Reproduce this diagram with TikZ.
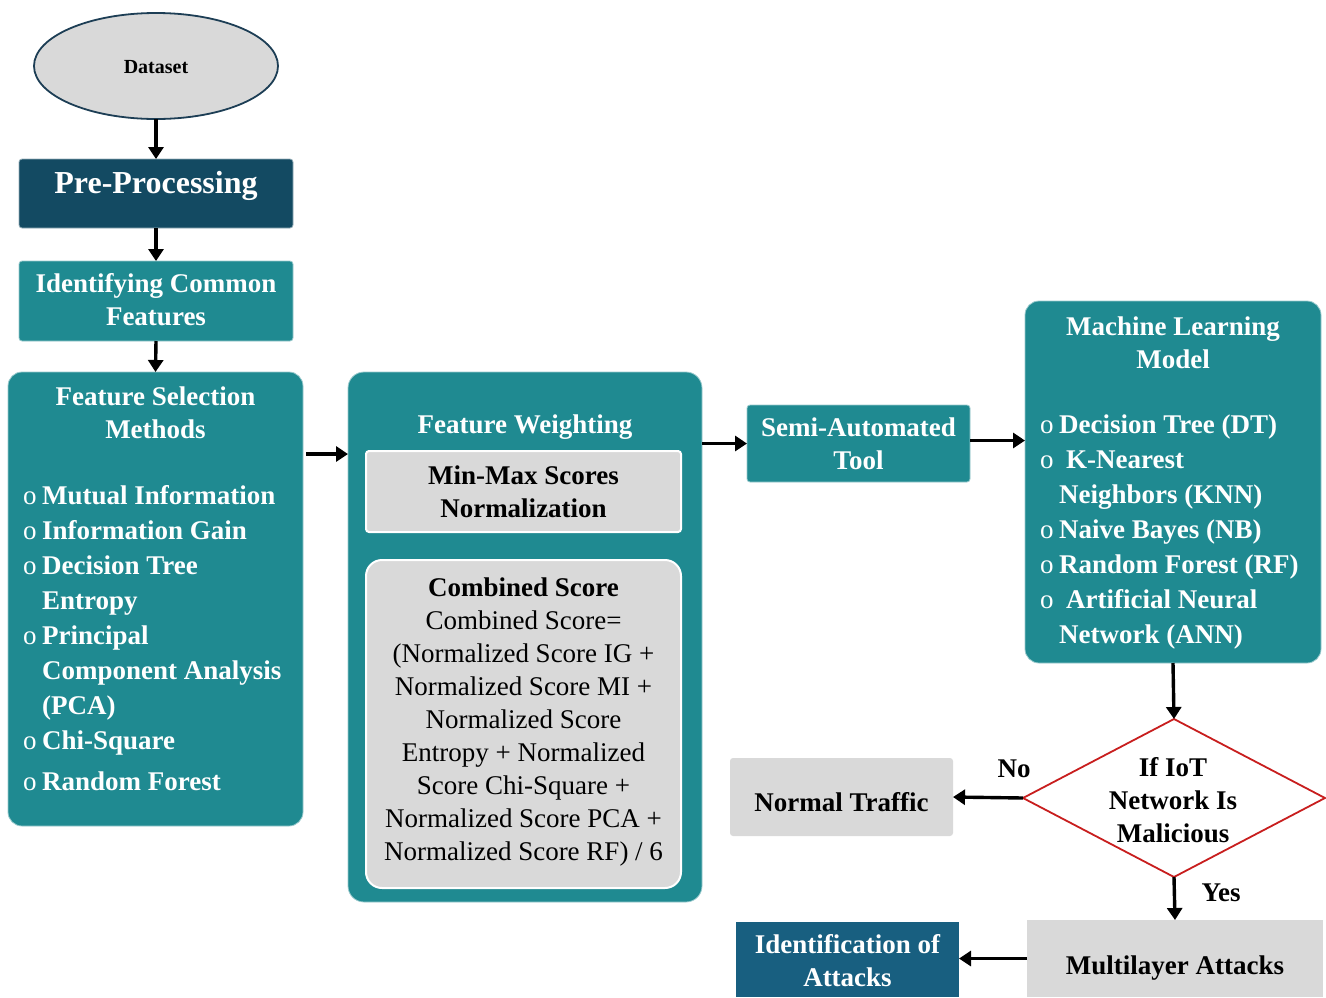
\documentclass[tikz,border=0pt]{standalone}
\usepackage{fontspec}
\setmainfont{Liberation Serif}
\usetikzlibrary{shapes.geometric,arrows.meta}

\definecolor{tealbg}{HTML}{1F8A91}
\definecolor{navybg}{HTML}{134A62}
\definecolor{bluebg}{HTML}{185F80}
\definecolor{greybg}{HTML}{D9D9D9}
\definecolor{decred}{HTML}{C81E1E}
\definecolor{ovaledge}{HTML}{1D3E55}

% multi-line text blocks whose reference point is the first baseline
\newcommand{\ctr}[1]{\begin{tabular}[t]{@{}c@{}}#1\end{tabular}}
\newcommand{\lft}[1]{\begin{tabular}[t]{@{}l@{}}#1\end{tabular}}
\newcommand{\bul}{\makebox[19pt][l]{\normalfont o}}
\newcommand{\ind}{\hspace*{19pt}}

\begin{document}
\begin{tikzpicture}[x=1pt,y=-1pt,
  shell/.style={rectangle, inner sep=0pt, outer sep=0pt},
  tealbox/.style={shell, fill=tealbg, draw=white!55!tealbg, line width=0.8pt, rounded corners=3pt},
  bigteal/.style={shell, fill=tealbg, draw=white!55!tealbg, line width=0.8pt, rounded corners=14pt},
  navybox/.style={shell, fill=navybg, draw=white!55!navybg, line width=0.8pt, rounded corners=3pt},
  greybox/.style={shell, fill=greybg, rounded corners=3pt},
  innerbox/.style={shell, fill=greybg, draw=white, line width=2pt},
  wtxt/.style={inner sep=0pt, anchor=base, text=white, font=\bfseries\fontsize{27}{33}\selectfont},
  btxt/.style={inner sep=0pt, anchor=base, text=black, font=\bfseries\fontsize{27}{33}\selectfont},
  ntxt/.style={inner sep=0pt, anchor=base, text=black, font=\fontsize{27}{33}\selectfont},
  wlist/.style={inner sep=0pt, anchor=base west, text=white, font=\bfseries\fontsize{27}{35}\selectfont},
  flow/.style={line width=3.4pt, -{Triangle[length=12pt,width=15pt]}},
]
\useasboundingbox (0,0) rectangle (1326,997);

% ---- left column ----
\node[shell, ellipse, fill=greybg, draw=ovaledge, line width=1.8pt,
      minimum width=244, minimum height=106] (ds) at (156,66) {};
\node[btxt, font=\bfseries\fontsize{20}{24}\selectfont] (dst) at (156,73) {Dataset};

\node[navybox, minimum width=274, minimum height=69] (pre) at (156,193.5) {};
\node[wtxt, font=\bfseries\fontsize{32}{38}\selectfont] (pret) at (156,193) {Pre-Processing};

\node[tealbox, minimum width=274, minimum height=80] (icf) at (156,301) {};
\node[wtxt] (icft) at (156,292) {\ctr{Identifying Common\\Features}};

\node[bigteal, minimum width=295, minimum height=454] (fs) at (155.5,599) {};
\node[wtxt] (fst) at (155.5,405) {\ctr{Feature Selection\\Methods}};
\node[wlist] (fsl) at (23,504) {\lft{%
  \bul Mutual Information\\
  \bul Information Gain\\
  \bul Decision Tree\\
  \ind Entropy\\
  \bul Principal\\
  \ind Component Analysis\\
  \ind (PCA)\\
  \bul Chi-Square\\[6pt]
  \bul Random Forest}};

% ---- feature weighting ----
\node[bigteal, minimum width=354, minimum height=530, rounded corners=16pt] (fw) at (525,637) {};
\node[wtxt] (fwt) at (525,433) {Feature Weighting};
\node[innerbox, rounded corners=3pt, minimum width=315, minimum height=81] (mm) at (523.5,491.5) {};
\node[btxt] (mmt) at (523.5,484) {\ctr{Min-Max Scores\\Normalization}};
\node[innerbox, rounded corners=16pt, minimum width=315, minimum height=328] (cs) at (523.5,724) {};
\node[ntxt] (cst) at (523.5,596) {\ctr{\textbf{Combined Score}\\
  Combined Score=\\
  (Normalized Score IG +\\
  Normalized Score MI +\\
  Normalized Score\\
  Entropy + Normalized\\
  Score Chi-Square +\\
  Normalized Score PCA +\\
  Normalized Score RF) / 6}};

% ---- tool and models ----
\node[tealbox, minimum width=223, minimum height=77] (semi) at (858.5,443.5) {};
\node[wtxt] (semit) at (858.5,436) {\ctr{Semi-Automated\\Tool}};

\node[bigteal, minimum width=296, minimum height=362] (ml) at (1173,482) {};
\node[wtxt] (mlt) at (1173,335) {\ctr{Machine Learning\\Model}};
\node[wlist] (mll) at (1040,433) {\lft{%
  \bul Decision Tree (DT)\\
  \bul\hspace*{7pt}K-Nearest\\
  \ind Neighbors (KNN)\\
  \bul Naive Bayes (NB)\\
  \bul Random Forest (RF)\\
  \bul\hspace*{7pt}Artificial Neural\\
  \ind Network (ANN)}};

% ---- decision ----
\node[shell, diamond, draw=decred, fill=white, line width=1.8pt,
      minimum width=302, minimum height=158] (dec) at (1174,798) {};
\node[btxt] (dect) at (1173,776) {\ctr{If IoT\\Network Is\\Malicious}};

\node[greybox, minimum width=223, minimum height=78] (nt) at (841.5,797) {};
\node[btxt] (ntt) at (841.5,811) {Normal Traffic};

\node[shell, fill=greybg, minimum width=296, minimum height=77] (mla) at (1175,958.5) {};
\node[btxt] (mlat) at (1175,974) {Multilayer Attacks};

\node[shell, fill=bluebg, minimum width=223, minimum height=75] (ida) at (847.5,959.5) {};
\node[wtxt] (idat) at (847.5,953) {\ctr{Identification of\\Attacks}};

\node[btxt] (no) at (1014,777) {No};
\node[btxt] (yes) at (1221,901) {Yes};

% ---- connectors ----
\coordinate (fsout) at ([xshift=3pt]fs.north east |- 0,454);
\coordinate (semiout) at ([yshift=3pt]semi.east);
\draw[flow] (ds.south) -- (pre.north);
\draw[flow] (pre.south) -- (icf.north);
\draw[flow] (icf.south) -- (fs.north);
\draw[flow] (fsout) -- (fw.west |- fsout);
\draw[flow] (fw.east |- semi.west) -- (semi.west);
\draw[flow] (semiout) -- (ml.west |- semiout);
\draw[flow] (ml.south) -- (dec.north);
\draw[flow] (dec.west) -- (nt.east);
\draw[flow] (dec.south) -- (mla.north);
\draw[flow] (mla.west) -- (ida.east |- mla.west);
\end{tikzpicture}
\end{document}
